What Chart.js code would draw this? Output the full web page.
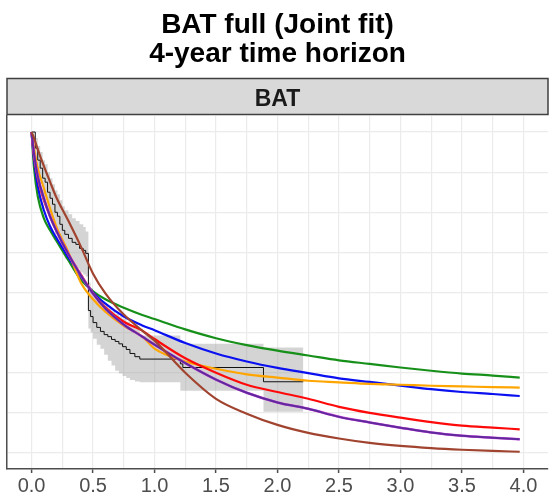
<!DOCTYPE html>
<html>
<head>
<meta charset="utf-8">
<script src="https://cdn.jsdelivr.net/npm/chart.js@4"></script>
<style>
  body { margin: 0; background: #fff; }
  #chart { display: block; }
</style>
</head>
<body>
<canvas id="chart" width="552" height="497"></canvas>
<script>
// ===== Data =====
const titleLines = ["BAT full (Joint fit)", "4-year time horizon"];
const panelLabel = "BAT";

// parametric fits, evaluated at these times (years)
const fitTimes = [0, 0.02, 0.05, 0.1, 0.15, 0.2, 0.3, 0.4, 0.5, 0.6, 0.75, 0.9, 1.0, 1.25, 1.5, 1.75, 2.0, 2.25, 2.5, 2.75, 3.0, 3.25, 3.5, 3.75, 3.97];
const greenFit  = [1, 0.91, 0.84, 0.785, 0.755, 0.73, 0.68, 0.632, 0.603, 0.583, 0.562, 0.544, 0.534, 0.508, 0.486, 0.469, 0.455, 0.443, 0.431, 0.422, 0.413, 0.405, 0.398, 0.393, 0.388];
const blueFit   = [1, 0.93, 0.865, 0.805, 0.765, 0.737, 0.687, 0.64, 0.60, 0.572, 0.54, 0.518, 0.506, 0.474, 0.448, 0.428, 0.412, 0.399, 0.386, 0.377, 0.368, 0.359, 0.352, 0.347, 0.342];
const orangeFit = [1, 0.96, 0.91, 0.86, 0.81, 0.765, 0.70, 0.625, 0.583, 0.552, 0.517, 0.49, 0.46, 0.428, 0.41, 0.396, 0.388, 0.38, 0.376, 0.372, 0.37, 0.3675, 0.366, 0.364, 0.363];
const redFit    = [1, 0.94, 0.885, 0.83, 0.79, 0.755, 0.695, 0.645, 0.598, 0.563, 0.527, 0.505, 0.484, 0.436, 0.40, 0.37, 0.352, 0.335, 0.315, 0.30, 0.288, 0.277, 0.268, 0.263, 0.259];
const purpleFit = [1, 0.945, 0.89, 0.835, 0.79, 0.755, 0.695, 0.643, 0.597, 0.56, 0.52, 0.49, 0.47, 0.424, 0.383, 0.35, 0.326, 0.31, 0.29, 0.276, 0.263, 0.251, 0.243, 0.238, 0.234];
const brownFit  = [1, 0.985, 0.957, 0.915, 0.876, 0.838, 0.778, 0.715, 0.647, 0.598, 0.545, 0.505, 0.48, 0.40, 0.335, 0.298, 0.27, 0.25, 0.236, 0.225, 0.2175, 0.212, 0.208, 0.205, 0.203];

// Kaplan-Meier estimate and its confidence band
const kmTimes = [0, 0.03, 0.05, 0.07, 0.09, 0.11, 0.13, 0.15, 0.17, 0.19, 0.21, 0.23, 0.25, 0.27, 0.3, 0.33, 0.36, 0.39, 0.42, 0.44, 0.462, 0.48, 0.5, 0.53, 0.56, 0.59, 0.62, 0.65, 0.68, 0.71, 0.74, 0.77, 0.8, 0.84, 0.88, 1.21, 1.23, 1.886, 2.21];
const kmSurv  = [1, 0.96, 0.93, 0.91, 0.885, 0.875, 0.85, 0.835, 0.82, 0.80, 0.79, 0.77, 0.755, 0.745, 0.735, 0.725, 0.72, 0.71, 0.705, 0.6975, 0.555, 0.54, 0.525, 0.513, 0.503, 0.495, 0.49, 0.483, 0.478, 0.472, 0.465, 0.458, 0.448, 0.44, 0.434, 0.422, 0.413, 0.3775, 0.3775];
const kmUpper = [1, 0.985, 0.965, 0.95, 0.93, 0.92, 0.9, 0.885, 0.87, 0.855, 0.845, 0.83, 0.815, 0.805, 0.795, 0.785, 0.778, 0.77, 0.763, 0.752, 0.625, 0.61, 0.597, 0.585, 0.575, 0.567, 0.56, 0.553, 0.547, 0.541, 0.534, 0.527, 0.518, 0.51, 0.4925, 0.4725, 0.4725, 0.463, 0.463];
const kmLower = [1, 0.93, 0.895, 0.87, 0.84, 0.83, 0.8, 0.785, 0.77, 0.745, 0.735, 0.71, 0.695, 0.685, 0.675, 0.665, 0.66, 0.65, 0.645, 0.64, 0.51, 0.5, 0.485, 0.47, 0.46, 0.445, 0.43, 0.418, 0.405, 0.398, 0.392, 0.387, 0.382, 0.378, 0.376, 0.355, 0.355, 0.3025, 0.3025];

const xTicks = [0, 0.5, 1, 1.5, 2, 2.5, 3, 3.5, 4];

// ===== Helpers =====
const pts = (xs, ys) => xs.map((x, i) => ({ x: x, y: ys[i] }));

function fitLine(values, color, width, order) {
  return {
    data: pts(fitTimes, values),
    borderColor: color,
    borderWidth: width,
    pointRadius: 0,
    cubicInterpolationMode: "monotone",
    fill: false,
    order: order
  };
}

// ===== Title + facet strip =====
const decorations = {
  id: "decorations",
  afterDraw(chart) {
    const ctx = chart.ctx;
    const area = chart.chartArea;
    const mid = (area.left + area.right) / 2;
    ctx.save();
    ctx.fillStyle = "#000";
    ctx.font = "bold 28px 'Liberation Sans', Arial, sans-serif";
    ctx.textAlign = "center";
    ctx.textBaseline = "alphabetic";
    ctx.fillText(titleLines[0], mid, 33);
    ctx.fillText(titleLines[1], mid, 62);

    // strip
    ctx.fillStyle = "#d9d9d9";
    ctx.fillRect(area.left, 78, area.right - area.left, area.top - 78 - 1);
    ctx.strokeStyle = "#404040";
    ctx.lineWidth = 1.5;
    ctx.strokeRect(area.left, 78.5, area.right - area.left, area.top - 80);
    ctx.fillStyle = "#1a1a1a";
    ctx.font = "bold 23px 'Liberation Sans', Arial, sans-serif";
    ctx.fillText(panelLabel, mid, 106);
    ctx.restore();
  }
};

// ===== Chart =====
const ctx = document.getElementById("chart").getContext("2d");
new Chart(ctx, {
  type: "line",
  data: {
    datasets: [
      {
        data: pts(kmTimes, kmUpper),
        stepped: true,
        borderWidth: 0,
        borderColor: "rgba(0,0,0,0)",
        backgroundColor: "rgba(160,160,160,0.45)",
        pointRadius: 0,
        fill: "+1",
        order: 20
      },
      {
        data: pts(kmTimes, kmLower),
        stepped: true,
        borderWidth: 0,
        borderColor: "rgba(0,0,0,0)",
        pointRadius: 0,
        fill: false,
        order: 19
      },
      {
        data: pts(kmTimes, kmSurv),
        stepped: true,
        borderColor: "#111",
        borderWidth: 1,
        pointRadius: 0,
        fill: false,
        order: 15
      },
      fitLine(greenFit, "#17901a", 2.2, 7),
      fitLine(blueFit, "#0a10f0", 2.2, 6),
      fitLine(orangeFit, "#ffa500", 2.2, 5),
      fitLine(redFit, "#ff0a0a", 2.2, 4),
      fitLine(purpleFit, "#d040e0", 2.6, 3),
      fitLine(purpleFit, "#5f2a9c", 2.0, 2),
      fitLine(brownFit, "#a0432f", 2.2, 1)
    ]
  },
  options: {
    responsive: false,
    animation: false,
    devicePixelRatio: 1,
    layout: { padding: { left: 7, right: 4, top: 116, bottom: 0 } },
    plugins: {
      legend: { display: false },
      tooltip: { enabled: false }
    },
    scales: {
      x: {
        type: "linear",
        min: -0.2,
        max: 4.2,
        afterFit: s => { s.height = 28; },
        ticks: {
          stepSize: 0.25,
          includeBounds: false,
          autoSkip: false,
          maxRotation: 0,
          padding: 1,
          color: "#4d4d4d",
          font: { size: 20, family: "'Liberation Sans', Arial, sans-serif" },
          callback: v => (xTicks.includes(v) ? v.toFixed(1) : "")
        },
        grid: {
          color: "#ebebeb",
          lineWidth: 1.2,
          tickLength: 4,
          tickColor: c => (c.tick && xTicks.includes(c.tick.value) ? "#4d4d4d" : "rgba(0,0,0,0)"),
          tickWidth: 1.5
        },
        border: { display: true, color: "#4d4d4d", width: 1.5 }
      },
      y: {
        type: "linear",
        min: 0.16,
        max: 1.04,
        afterFit: s => { s.width = 0; },
        ticks: { display: false, stepSize: 0.1, includeBounds: false },
        grid: { color: "#ebebeb", lineWidth: 1.2, drawTicks: false },
        border: { display: true, color: "#4d4d4d", width: 1.5 }
      }
    }
  },
  plugins: [decorations]
});
</script>
</body>
</html>
